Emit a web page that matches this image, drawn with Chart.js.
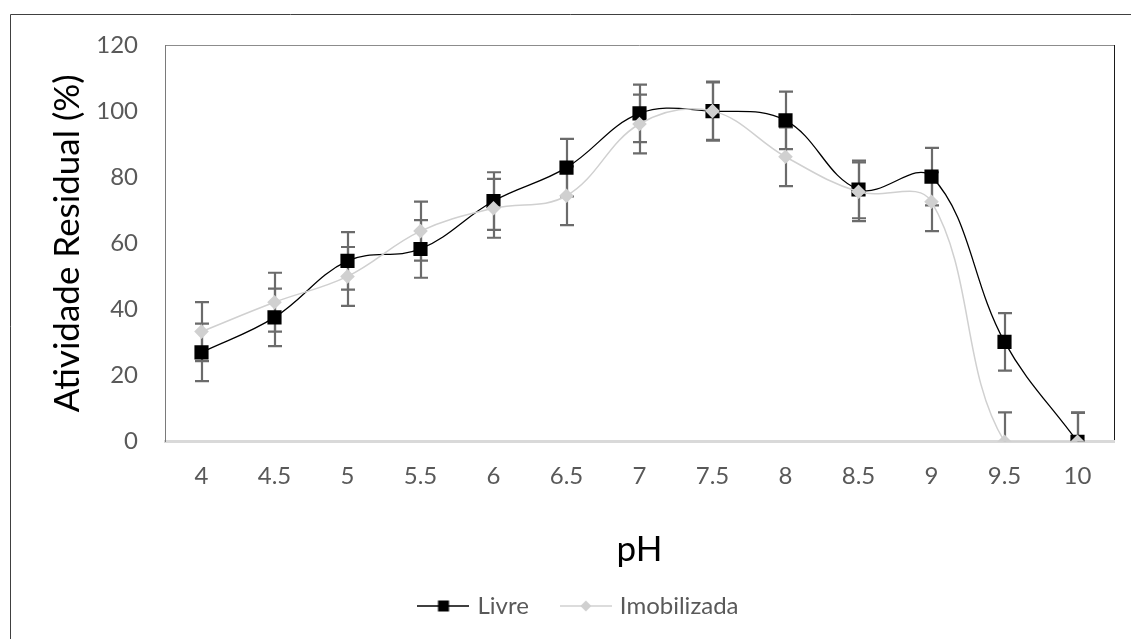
<!DOCTYPE html>
<html>
<head>
<meta charset="utf-8">
<script src="https://cdn.jsdelivr.net/npm/chart.js@4.4.1/dist/chart.umd.min.js"></script>
<style>
  html, body { margin: 0; padding: 0; background: #fff; }
  #chart-ph { display: block; }
</style>
</head>
<body>
<canvas id="chart-ph" width="1131" height="639"></canvas>
<script>
// ── Data ──
const phLabels = ['4', '4.5', '5', '5.5', '6', '6.5', '7', '7.5', '8', '8.5', '9', '9.5', '10'];
const livre = [27, 37.6, 54.7, 58.3, 72.8, 82.9, 99.3, 100, 97.2, 76.3, 80.2, 30.2, 0];
const imobilizada = [33.3, 42.2, 50, 63.7, 70.6, 74.4, 96.1, 100, 86.2, 75.6, 72.6, 0, 0];
const livreErro = [8.7, 8.7, 8.7, 8.7, 8.7, 8.7, 8.7, 8.7, 8.7, 8.7, 8.7, 8.7, 8.7];
const imobErro = [8.9, 8.9, 8.9, 8.9, 8.9, 8.9, 8.9, 8.9, 8.9, 8.9, 8.9, 8.9, 8.9];
const yTicks = [0, 20, 40, 60, 80, 100, 120];

const FONT = 'Lato, "Open Sans", sans-serif';
const TICK_COLOR = '#595959';

// ── Legend icons: line with marker in the middle (Excel style) ──
function legendIcon(color, lineW, shape) {
  const c = document.createElement('canvas');
  c.width = 52; c.height = 16;
  const g = c.getContext('2d');
  g.strokeStyle = color;
  g.lineWidth = lineW;
  g.beginPath(); g.moveTo(0, 8); g.lineTo(52, 8); g.stroke();
  g.fillStyle = color;
  if (shape === 'rect') {
    g.fillRect(20.5, 2.5, 11, 11);
  } else {
    g.beginPath();
    g.moveTo(26, 2.5); g.lineTo(31.5, 8); g.lineTo(26, 13.5); g.lineTo(20.5, 8);
    g.closePath(); g.fill();
  }
  return c;
}

// ── Frame lines (outer chart frame + plot box top/right) ──
const framePlugin = {
  id: 'frame',
  beforeDraw(chart) {
    const { ctx, chartArea: a } = chart;
    ctx.save();
    ctx.fillStyle = '#fff';
    ctx.fillRect(0, 0, chart.width, chart.height);
    ctx.strokeStyle = '#404040';
    ctx.lineWidth = 1;
    ctx.beginPath();
    ctx.moveTo(10.5, chart.height);
    ctx.lineTo(10.5, 14.5);
    ctx.lineTo(chart.width, 14.5);
    ctx.stroke();
    ctx.strokeStyle = '#8c8c8c';
    ctx.beginPath();
    ctx.moveTo(a.left, Math.round(a.top) + 0.5);
    ctx.lineTo(a.right, Math.round(a.top) + 0.5);
    ctx.stroke();
    ctx.strokeStyle = '#1a1a1a';
    ctx.beginPath();
    ctx.moveTo(Math.round(a.right) + 0.5, a.top);
    ctx.lineTo(Math.round(a.right) + 0.5, a.bottom);
    ctx.stroke();
    ctx.restore();
  }
};

// ── Error bars, drawn under the markers ──
const errorBarPlugin = {
  id: 'errorBars',
  beforeDatasetsDraw(chart) {
    const { ctx, chartArea: a, scales: { y } } = chart;
    ctx.save();
    ctx.beginPath();
    ctx.rect(a.left, a.top, a.right - a.left, a.bottom - a.top);
    ctx.clip();
    ctx.strokeStyle = '#6b6b6b';
    ctx.lineWidth = 2.2;
    chart.data.datasets.forEach((ds, i) => {
      const meta = chart.getDatasetMeta(i);
      meta.data.forEach((pt, j) => {
        const v = ds.data[j], e = ds.errors[j];
        const top = y.getPixelForValue(v + e);
        const bot = y.getPixelForValue(v - e);
        const x = Math.round(pt.x);
        ctx.beginPath();
        ctx.moveTo(x, top); ctx.lineTo(x, bot);
        ctx.moveTo(x - 7, top); ctx.lineTo(x + 7, top);
        ctx.moveTo(x - 7, bot); ctx.lineTo(x + 7, bot);
        ctx.stroke();
      });
    });
    ctx.restore();
  }
};

function renderPhChart() {
  const ctx = document.getElementById('chart-ph').getContext('2d');
  const icons = {
    Livre: legendIcon('#000', 1.5, 'rect'),
    Imobilizada: legendIcon('#d0d0d0', 1.5, 'diamond')
  };

  window._phChart = new Chart(ctx, {
    type: 'line',
    data: {
      labels: phLabels,
      datasets: [{
        label: 'Livre',
        data: livre,
        errors: livreErro,
        borderColor: '#000',
        borderWidth: 1.3,
        pointStyle: 'rect',
        pointRadius: 10,
        pointBackgroundColor: '#000',
        pointBorderWidth: 0,
        tension: 0.38,
        order: 1
      }, {
        label: 'Imobilizada',
        data: imobilizada,
        errors: imobErro,
        borderColor: '#d0d0d0',
        borderWidth: 1.5,
        pointStyle: 'rectRot',
        pointRadius: 7.3,
        pointBackgroundColor: '#d0d0d0',
        pointBorderWidth: 0,
        tension: 0.38,
        order: 0
      }]
    },
    options: {
      responsive: false,
      animation: false,
      events: [],
      layout: { padding: { top: 45, right: 17, bottom: 11, left: 46 } },
      scales: {
        x: {
          offset: true,
          grid: { display: false, drawTicks: false },
          border: { color: '#d9d9d9', width: 3 },
          ticks: { color: TICK_COLOR, font: { family: FONT, size: 24 }, padding: 20, autoSkip: false, maxRotation: 0 },
          title: { display: true, text: 'pH', color: '#000', font: { family: FONT, size: 35 }, padding: { top: 0, bottom: -12 } },
          afterFit: s => { s.height = 559 - 441.7; }
        },
        y: {
          min: 0,
          max: 120,
          afterBuildTicks: s => { s.ticks = yTicks.map(v => ({ value: v })); },
          grid: { display: false, drawTicks: false },
          border: { color: '#7a7a7a', width: 1 },
          ticks: { color: TICK_COLOR, font: { family: FONT, size: 24 }, padding: 27 },
          title: { display: true, text: 'Atividade Residual (%)', color: '#000', font: { family: FONT, size: 35 }, padding: { top: 1, bottom: 0 } },
          afterFit: s => { s.width = 165 - 46; }
        }
      },
      plugins: {
        tooltip: { enabled: false },
        legend: {
          position: 'bottom',
          labels: {
            usePointStyle: true,
            pointStyleWidth: 44,
            padding: 35,
            color: TICK_COLOR,
            font: { family: FONT, size: 24 },
            generateLabels: chart => chart.data.datasets.map((ds, i) => ({
              text: ds.label,
              pointStyle: icons[ds.label],
              fillStyle: ds.borderColor,
              strokeStyle: ds.borderColor,
              lineWidth: 0,
              fontColor: TICK_COLOR,
              hidden: false,
              datasetIndex: i
            }))
          }
        }
      }
    },
    plugins: [framePlugin, errorBarPlugin]
  });
}

document.fonts.load('24px Lato').then(renderPhChart, renderPhChart);
</script>
</body>
</html>
